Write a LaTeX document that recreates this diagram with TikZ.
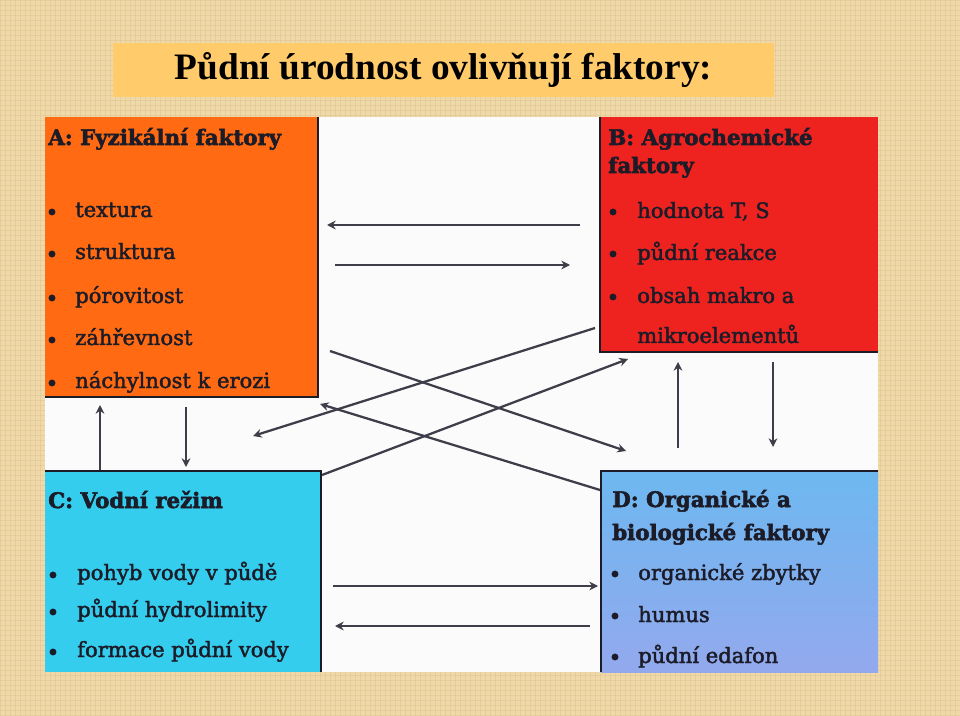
\documentclass[tikz,border=0pt]{standalone}
\usepackage{fontspec}
\setmainfont{Liberation Serif}
\newfontfamily\headfont{DejaVu Serif Bold}[FakeBold=2.5]
\newfontfamily\itemfont{DejaVu Serif}[FakeBold=2]
\usetikzlibrary{arrows.meta,calc}

\definecolor{paper}{HTML}{EFD9A9}
\definecolor{paperline}{HTML}{D6B983}
\definecolor{titlefill}{HTML}{FFCB6B}
\definecolor{fyzfill}{HTML}{FF6A12}
\definecolor{agrofill}{HTML}{EE2320}
\definecolor{vodafill}{HTML}{35CDEE}
\definecolor{orgtop}{HTML}{6DB8F0}
\definecolor{orgbot}{HTML}{93A9EE}
\definecolor{ink}{HTML}{1C1C28}
\definecolor{arrowgray}{HTML}{3E3E4A}

\tikzset{
  box/.style={anchor=north west, inner sep=0pt, outer sep=0pt},
  head/.style={anchor=base west, inner sep=0pt, text=ink,
    font=\headfont\fontsize{16}{18}\selectfont},
  item/.style={anchor=base west, inner sep=0pt, text=ink,
    font=\itemfont\fontsize{15.8}{18}\selectfont},
  flow/.style={draw=arrowgray, line width=1.7pt, -{Stealth[length=6.5pt,width=6.5pt]}},
  rim/.style={draw=ink, line width=1.5pt},
}

\begin{document}
\begin{tikzpicture}[x=0.75pt,y=-0.75pt]
  \useasboundingbox (0,0) rectangle (960,716);
  \fill[paper] (0,0) rectangle (960,716);
  \foreach \k in {0,5,...,960} \draw[paperline,opacity=0.35,line width=0.4pt] (\k,0) -- (\k,716);
  \foreach \k in {0,5,...,716} \draw[paperline,opacity=0.35,line width=0.4pt] (0,\k) -- (960,\k);

  \node[fill=titlefill, minimum width=661*0.75pt, minimum height=54*0.75pt, inner sep=0pt,
    font=\bfseries\fontsize{28}{30}\selectfont] (title) at (443.5,70) {Půdní úrodnost ovlivňují faktory:};

  \fill[white!97!gray] (45,117) rectangle (878,672);

  \node[box, fill=fyzfill, minimum width=273*0.75pt, minimum height=280*0.75pt] (A) at (45,117) {};
  \node[box, fill=agrofill, minimum width=278*0.75pt, minimum height=235*0.75pt] (B) at (600,117) {};
  \node[box, fill=vodafill, minimum width=276*0.75pt, minimum height=201*0.75pt] (C) at (45,471) {};
  \node[box, top color=orgtop, bottom color=orgbot, minimum width=277*0.75pt, minimum height=201*0.75pt] (D) at (601,471) {};
  \draw[rim] (A.north east) -- (A.south east) -- (A.south west);
  \draw[rim] (B.north west) -- (B.south west) -- (B.south east);
  \draw[rim] (C.north west) -- (C.north east) -- (C.south east);
  \draw[rim] (D.south west) -- (D.north west) -- (D.north east);

  % headings
  \node[head] (ha) at (48,145) {A: Fyzikální faktory};
  \node[head] (hb1) at (608,145) {B: Agrochemické};
  \node[head] (hb2) at (608,173) {faktory};
  \node[head] (hc) at (48,508) {C: Vodní režim};
  \node[head] (hd1) at (612,507) {D: Organické a};
  \node[head] (hd2) at (612,540) {biologické faktory};

  % bullet lists
  \foreach \t/\y [count=\i] in {textura/217,struktura/259,pórovitost/303,záhřevnost/345,náchylnost k erozi/388} {
    \node[item] (a\i) at (75,\y) {\t};
    \fill[ink] ($(a\i.base west)+(-23,-5)$) circle[radius=2.6pt];
  }
  \foreach \t/\y [count=\i] in {{hodnota T, S}/218,půdní reakce/260,obsah makro a/303} {
    \node[item] (b\i) at (637,\y) {\t};
    \fill[ink] ($(b\i.base west)+(-24,-6)$) circle[radius=2.6pt];
  }
  \node[item] (b4) at (637,343) {mikroelementů};
  \foreach \t/\y [count=\i] in {pohyb vody v půdě/580,půdní hydrolimity/617,formace půdní vody/657} {
    \node[item] (c\i) at (77,\y) {\t};
    \fill[ink] ($(c\i.base west)+(-24,-5)$) circle[radius=2.6pt];
  }
  \foreach \t/\y [count=\i] in {organické zbytky/580,humus/622,půdní edafon/663} {
    \node[item] (d\i) at (638,\y) {\t};
    \fill[ink] ($(d\i.base west)+(-23,-6)$) circle[radius=2.6pt];
  }

  % links between the factors
  \draw[flow] ($(B.north west)+(-20,108)$) -- ($(A.north east)+(9,108)$);
  \draw[flow] ($(A.north east)+(17,148)$) -- ($(B.north west)+(-30,148)$);
  \draw[flow] ($(C.north east)+(12,115)$) -- ($(D.north west)+(-3,115)$);
  \draw[flow] ($(D.north west)+(-11,155)$) -- ($(C.north east)+(14,155)$);
  \draw[flow] ($(C.north west)+(55,-1)$) -- ($(A.south west)+(55,8)$);
  \draw[flow] ($(A.south west)+(141,10)$) -- ($(C.north west)+(141,-4)$);
  \draw[flow] ($(D.north west)+(77,-23)$) -- ($(B.south west)+(78,10)$);
  \draw[flow] ($(B.south west)+(173,10)$) -- ($(D.north west)+(172,-24)$);
  \draw[flow] ($(A.north east)+(12,234)$) -- ($(D.north west)+(25,-20)$);
  \draw[flow] ($(D.north west)+(-1,19)$) -- ($(A.south east)+(2,7)$);
  \draw[flow] ($(B.south west)+(-5,-24)$) -- ($(A.south east)+(-65,39)$);
  \draw[flow] ($(C.north east)+(1,4)$) -- ($(B.south west)+(28,7)$);
\end{tikzpicture}
\end{document}
